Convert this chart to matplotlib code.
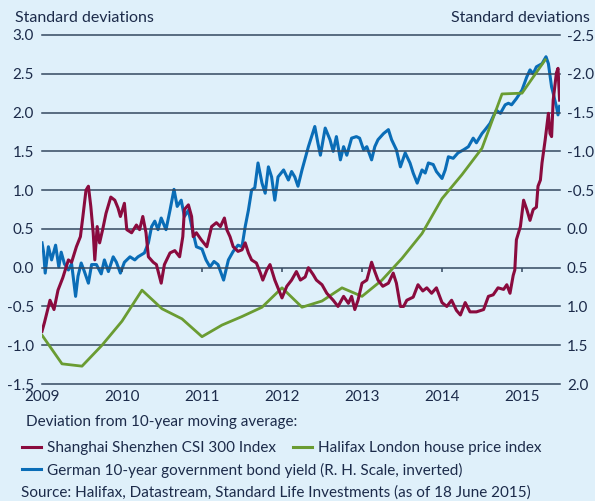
import numpy as np
import matplotlib
matplotlib.use("Agg")
import matplotlib.pyplot as plt
from matplotlib.lines import Line2D

# ---- data ----
# Shanghai Shenzhen CSI 300, std devs from 10y moving average (left scale)
csi_dates = [2009.00, 2009.03, 2009.10, 2009.15, 2009.20, 2009.26, 2009.33, 2009.37, 2009.43, 2009.48,
             2009.51, 2009.55, 2009.58, 2009.61, 2009.64, 2009.66, 2009.69, 2009.72, 2009.76, 2009.80,
             2009.86, 2009.91, 2009.95, 2009.98, 2010.03, 2010.06, 2010.12, 2010.18, 2010.22, 2010.26,
             2010.30, 2010.33, 2010.39, 2010.43, 2010.49, 2010.53, 2010.60, 2010.66, 2010.72, 2010.76,
             2010.78, 2010.83, 2010.87, 2010.89, 2010.93, 2010.99, 2011.06, 2011.12, 2011.18, 2011.23,
             2011.28, 2011.31, 2011.35, 2011.39, 2011.45, 2011.50, 2011.54, 2011.58, 2011.62, 2011.68,
             2011.73, 2011.76, 2011.81, 2011.85, 2011.91, 2012.00, 2012.06, 2012.12, 2012.18, 2012.23,
             2012.29, 2012.33, 2012.39, 2012.43, 2012.50, 2012.56, 2012.64, 2012.70, 2012.77, 2012.83,
             2012.87, 2012.91, 2012.95, 2013.00, 2013.06, 2013.12, 2013.16, 2013.20, 2013.26, 2013.33,
             2013.39, 2013.43, 2013.48, 2013.52, 2013.56, 2013.64, 2013.70, 2013.76, 2013.81, 2013.87,
             2013.93, 2014.00, 2014.06, 2014.12, 2014.18, 2014.23, 2014.29, 2014.35, 2014.43, 2014.52,
             2014.58, 2014.64, 2014.70, 2014.77, 2014.81, 2014.85, 2014.89, 2014.91, 2014.93, 2014.98,
             2015.02, 2015.06, 2015.10, 2015.14, 2015.18, 2015.20, 2015.23, 2015.25, 2015.29, 2015.33,
             2015.35, 2015.37, 2015.39, 2015.43, 2015.45, 2015.47]
csi_values = [-0.82, -0.71, -0.42, -0.54, -0.29, -0.13, 0.10, 0.07, 0.27, 0.40,
              0.65, 1.00, 1.05, 0.79, 0.45, 0.10, 0.53, 0.32, 0.50, 0.70,
              0.91, 0.87, 0.77, 0.66, 0.83, 0.49, 0.45, 0.55, 0.49, 0.66,
              0.45, 0.14, 0.07, 0.04, -0.20, 0.04, 0.19, 0.22, 0.14, 0.40,
              0.75, 0.81, 0.66, 0.40, 0.45, 0.36, 0.27, 0.53, 0.58, 0.53,
              0.64, 0.49, 0.40, 0.27, 0.21, 0.23, 0.32, 0.19, 0.10, 0.06,
              -0.07, -0.16, -0.03, 0.04, -0.16, -0.39, -0.24, -0.16, -0.05, -0.16,
              -0.12, 0.00, -0.09, -0.16, -0.22, -0.33, -0.42, -0.50, -0.37, -0.46,
              -0.37, -0.54, -0.42, -0.20, -0.16, 0.07, -0.05, -0.16, -0.24, -0.20,
              -0.07, -0.20, -0.50, -0.50, -0.42, -0.38, -0.22, -0.30, -0.26, -0.33,
              -0.26, -0.45, -0.50, -0.42, -0.55, -0.61, -0.45, -0.57, -0.57, -0.54,
              -0.37, -0.35, -0.26, -0.28, -0.22, -0.33, -0.10, -0.03, 0.36, 0.53,
              0.87, 0.75, 0.61, 0.75, 0.78, 1.05, 1.13, 1.35, 1.65, 1.99,
              1.73, 1.69, 2.16, 2.51, 2.57, 2.16]

# Halifax London house price index (left scale), quarterly
halifax_dates = [2009.00, 2009.25, 2009.50, 2009.75, 2010.00, 2010.25, 2010.50, 2010.75,
                 2011.00, 2011.25, 2011.50, 2011.75, 2012.00, 2012.25, 2012.50, 2012.75,
                 2013.00, 2013.25, 2013.50, 2013.75, 2014.00, 2014.25, 2014.50, 2014.75,
                 2015.00, 2015.29]
halifax_values = [-0.87, -1.24, -1.27, -1.00, -0.69, -0.29, -0.53, -0.66,
                  -0.89, -0.74, -0.63, -0.51, -0.26, -0.51, -0.43, -0.26,
                  -0.37, -0.16, 0.12, 0.44, 0.89, 1.20, 1.54, 2.24,
                  2.25, 2.68]

# German 10-year bund yield (right scale, inverted)
bund_dates = [2009.00, 2009.02, 2009.04, 2009.08, 2009.12, 2009.17, 2009.21, 2009.24, 2009.28, 2009.33,
              2009.37, 2009.42, 2009.45, 2009.49, 2009.53, 2009.58, 2009.62, 2009.68, 2009.74, 2009.78,
              2009.83, 2009.89, 2009.93, 2009.98, 2010.03, 2010.10, 2010.16, 2010.20, 2010.28, 2010.33,
              2010.37, 2010.41, 2010.45, 2010.49, 2010.55, 2010.60, 2010.65, 2010.69, 2010.74, 2010.78,
              2010.83, 2010.88, 2010.93, 2011.00, 2011.05, 2011.10, 2011.15, 2011.20, 2011.27, 2011.33,
              2011.39, 2011.45, 2011.50, 2011.54, 2011.58, 2011.62, 2011.66, 2011.70, 2011.75, 2011.79,
              2011.83, 2011.87, 2011.91, 2011.95, 2012.02, 2012.08, 2012.12, 2012.16, 2012.20, 2012.25,
              2012.29, 2012.33, 2012.37, 2012.41, 2012.45, 2012.48, 2012.54, 2012.60, 2012.64, 2012.68,
              2012.73, 2012.77, 2012.81, 2012.87, 2012.93, 2012.97, 2013.02, 2013.06, 2013.12, 2013.16,
              2013.20, 2013.27, 2013.33, 2013.37, 2013.43, 2013.48, 2013.54, 2013.60, 2013.64, 2013.69,
              2013.75, 2013.79, 2013.83, 2013.89, 2013.93, 2014.00, 2014.04, 2014.08, 2014.14, 2014.20,
              2014.27, 2014.33, 2014.39, 2014.43, 2014.50, 2014.54, 2014.60, 2014.64, 2014.68, 2014.73,
              2014.79, 2014.83, 2014.87, 2014.93, 2015.00, 2015.06, 2015.10, 2015.14, 2015.18, 2015.25,
              2015.30, 2015.33, 2015.37, 2015.39, 2015.41, 2015.43, 2015.45, 2015.47]
bund_values = [0.18, 0.30, 0.57, 0.23, 0.40, 0.21, 0.49, 0.30, 0.45, 0.53,
               0.45, 0.87, 0.61, 0.44, 0.55, 0.70, 0.46, 0.46, 0.58, 0.40,
               0.55, 0.36, 0.43, 0.57, 0.43, 0.36, 0.40, 0.36, 0.31, 0.18,
               -0.03, -0.10, 0.01, -0.14, 0.01, -0.24, -0.51, -0.29, -0.37, -0.16,
               -0.24, 0.01, 0.23, 0.26, 0.40, 0.49, 0.42, 0.46, 0.66, 0.40,
               0.29, 0.21, 0.23, -0.03, -0.24, -0.50, -0.53, -0.85, -0.59, -0.46,
               -0.80, -0.67, -0.37, -0.67, -0.76, -0.63, -0.74, -0.67, -0.55, -0.76,
               -0.91, -1.06, -1.19, -1.32, -1.10, -0.95, -1.30, -1.15, -1.00, -1.19,
               -0.89, -1.06, -0.95, -1.17, -1.19, -1.17, -1.02, -1.06, -0.89, -1.06,
               -1.15, -1.23, -1.28, -1.15, -1.02, -0.80, -0.98, -0.85, -0.72, -0.59,
               -0.76, -0.72, -0.85, -0.83, -0.74, -0.65, -0.76, -0.93, -0.91, -0.98,
               -1.02, -1.06, -1.17, -1.11, -1.23, -1.28, -1.36, -1.45, -1.53, -1.49,
               -1.60, -1.62, -1.60, -1.68, -1.79, -1.96, -2.05, -2.00, -2.09, -2.13,
               -2.22, -2.13, -1.83, -1.75, -1.66, -1.58, -1.47, -1.58]

years = [2009, 2010, 2011, 2012, 2013, 2014, 2015]
left_ticks = [-1.5, -1.0, -0.5, 0.0, 0.5, 1.0, 1.5, 2.0, 2.5, 3.0]
right_ticks = [2.0, 1.5, 1.0, 0.5, 0.0, -0.5, -1.0, -1.5, -2.0, -2.5]

# ---- style ----
bg = '#dff0fa'
ink = '#1c2b4a'
grid_c = '#34485f'
c_csi = '#8a0b3e'
c_hal = '#6a9c32'
c_bund = '#0a6db7'
plt.rcParams['font.family'] = ['Lato', 'DejaVu Sans']
fs = 11

fig = plt.figure(figsize=(5.95, 5.01), dpi=100, facecolor=bg)
ax = fig.add_axes([42/595, 1-384/501, 518/595, 349/501])
ax2 = ax.twinx()
ax2.set_facecolor('none')

for s in list(ax.spines.values()) + list(ax2.spines.values()):
    s.set_visible(False)

ax.set_xlim(2009, 2015.475)
ax.set_ylim(-1.5, 3.0)
ax2.set_ylim(2.0, -2.5)

for t in left_ticks:
    ax.axhline(t, color=grid_c, lw=1.1, zorder=1, clip_on=False)
ax.vlines(years[1:], -0.055, 0, color=grid_c, lw=1.1, zorder=1)

ax2.plot(bund_dates, bund_values, color=c_bund, lw=2.2, zorder=3)
ax.plot(halifax_dates, halifax_values, color=c_hal, lw=2.0, zorder=4)
ax.plot(csi_dates, csi_values, color=c_csi, lw=2.2, zorder=5)
ax.set_zorder(2)
ax2.set_zorder(1)
ax.patch.set_visible(False)

ax.set_yticks(left_ticks)
ax.set_yticklabels(['%.1f' % v for v in left_ticks])
ax2.set_yticks(right_ticks)
ax2.set_yticklabels(['%.1f' % v for v in right_ticks])
ax.set_xticks(years)
ax.set_xticklabels([str(y) for y in years])
ax.tick_params(axis='both', length=0, labelsize=fs, labelcolor=ink)
ax.tick_params(axis='y', pad=6)
ax.tick_params(axis='x', pad=4)
ax2.tick_params(axis='y', length=0, labelsize=fs, labelcolor=ink, pad=5)

fig.text(15/595, 1-18/501, 'Standard deviations', fontsize=11.5, color=ink, va='center', ha='left')
fig.text(590/595, 1-18/501, 'Standard deviations', fontsize=11.5, color=ink, va='center', ha='right')

fig.text(26/595, 1-422/501, 'Deviation from 10-year moving average:', fontsize=fs, color=ink, va='center')
handles = [Line2D([], [], color=c_csi, lw=2.2),
           Line2D([], [], color=c_hal, lw=2.2),
           Line2D([], [], color=c_bund, lw=2.2)]
labels = ['Shanghai Shenzhen CSI 300 Index', 'Halifax London house price index',
          'German 10-year government bond yield (R. H. Scale, inverted)']
fig.legend(handles[:2], labels[:2], loc='center left', bbox_to_anchor=(22/595, 1-448/501),
           ncol=2, frameon=False, fontsize=fs, labelcolor=ink, handlelength=1.25,
           handletextpad=0.4, columnspacing=1.1, borderpad=0, borderaxespad=0)
fig.legend(handles[2:], labels[2:], loc='center left', bbox_to_anchor=(22/595, 1-470/501),
           frameon=False, fontsize=fs, labelcolor=ink, handlelength=1.25,
           handletextpad=0.4, borderpad=0, borderaxespad=0)
fig.text(21/595, 1-493/501, 'Source: Halifax, Datastream, Standard Life Investments (as of 18 June 2015)',
         fontsize=fs, color=ink, va='center')

fig.savefig('out.png', dpi=100, facecolor=bg)
